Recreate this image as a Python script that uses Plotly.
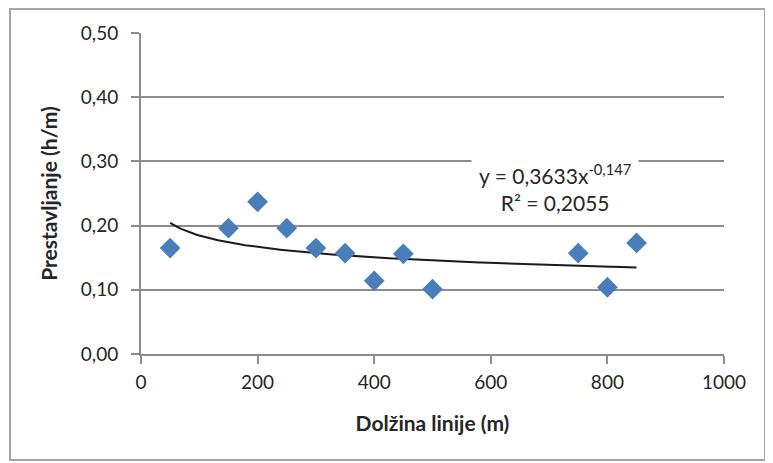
import numpy as np
import plotly.graph_objects as go

# Data
duljina = [50, 150, 200, 250, 300, 350, 400, 450, 500, 750, 800, 850]
prestavljanje = [0.165, 0.196, 0.237, 0.196, 0.165, 0.157, 0.114, 0.156, 0.101, 0.157, 0.104, 0.173]

# Power trendline as displayed on the chart
coef_a = 0.3633
coef_b = -0.147
trend_x = np.linspace(min(duljina), max(duljina), 200)
trend_y = coef_a * trend_x ** coef_b

y_ticks = [0.0, 0.1, 0.2, 0.3, 0.4, 0.5]
x_ticks = [0, 200, 400, 600, 800, 1000]

font = "Lato"
txt = "#262626"

fig = go.Figure()
fig.add_trace(go.Scatter(
    x=trend_x, y=trend_y, mode="lines",
    line=dict(color="#1a1a1a", width=2), hoverinfo="skip", showlegend=False))
fig.add_trace(go.Scatter(
    x=duljina, y=prestavljanje, mode="markers",
    marker=dict(symbol="diamond", size=16, color="#4a7ebb"),
    showlegend=False))

fig.add_annotation(
    x=0.71, y=0.52, xref="paper", yref="paper", xanchor="center", yanchor="middle",
    text="y = 0,3633x<sup>-0,147</sup><br>R² = 0,2055",
    showarrow=False, align="center", bgcolor="white", borderpad=7,
    font=dict(family=font, size=21, color=txt))

fig.add_shape(type="rect", xref="paper", yref="paper",
              x0=-0.2247, x1=1.0703, y0=-0.330, y1=1.0748,
              line=dict(color="#a6a6a6", width=2), layer="below")

fig.update_layout(
    width=765, height=455,
    margin=dict(l=133, r=49, t=25, b=109),
    paper_bgcolor="white", plot_bgcolor="white",
    separators=", ",
    font=dict(family=font, size=19, color=txt),
    xaxis=dict(
        range=[0, 1000], tickvals=x_ticks, tickformat="d",
        tickfont=dict(family=font, size=19, color=txt), ticklabelstandoff=2,
        showgrid=False, zeroline=False,
        showline=True, linecolor="#8c8c8c", linewidth=2,
        ticks="outside", ticklen=8, tickcolor="#8c8c8c", tickwidth=2,
        title=dict(text="<b>Dolžina linije (m)</b>", font=dict(family=font, size=21, color=txt), standoff=25)),
    yaxis=dict(
        range=[0, 0.5], tickvals=y_ticks, tickformat=".2f",
        tickfont=dict(family=font, size=19, color=txt), ticklabelstandoff=9,
        showgrid=True, gridcolor="#8c8c8c", gridwidth=2, zeroline=False,
        showline=True, linecolor="#8c8c8c", linewidth=2,
        ticks="outside", ticklen=8, tickcolor="#8c8c8c", tickwidth=2,
        title=dict(text="<b>Prestavljanje (h/m)</b>", font=dict(family=font, size=21, color=txt), standoff=17)),
)

fig.write_html("out.html")
